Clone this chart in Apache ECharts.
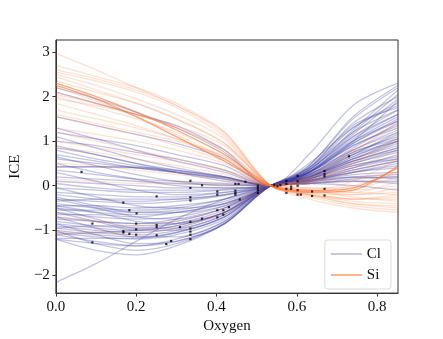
<!DOCTYPE html>
<html>
<head>
<meta charset="utf-8">
<script src="https://cdn.jsdelivr.net/npm/echarts@6/dist/echarts.min.js"></script>
<style>
  html, body { margin: 0; padding: 0; background: #fff; }
  #chart { width: 443px; height: 339px; }
</style>
</head>
<body>
<div id="chart"></div>
<script>
// oxygen grid the ICE curves are sampled on
var oxygen = [0, 0.1, 0.2, 0.3, 0.42, 0.535, 0.63, 0.74, 0.852];
var xTicks = [0, 0.2, 0.4, 0.6, 0.8];
var yTicks = [-2, -1, 0, 1, 2, 3];

// Cl curves
var clCurves = [
  [2.2, 1.95, 1.65, 1.3, 0.75, 0, 0.5, 1.3, 1.8],
  [2.1, 1.85, 1.6, 1.35, 0.8, 0, 0.3, 0.8, 1.2],
  [1.55, 1.35, 1.15, 0.95, 0.6, 0, 0.7, 1.8, 2.3],
  [1.2, 1.05, 0.9, 0.7, 0.45, 0, 0.4, 1.2, 1.7],
  [1.1, 0.85, 0.6, 0.4, 0.2, 0, 0.25, 0.7, 1.0],
  [1.0, 0.9, 0.75, 0.6, 0.35, 0, 0.45, 1.5, 2.2],
  [0.9, 0.7, 0.5, 0.35, 0.2, 0, 0.2, 0.6, 0.9],
  [0.8, 0.6, 0.45, 0.3, 0.15, 0, 0.35, 1.1, 1.6],
  [0.7, 0.55, 0.4, 0.3, 0.18, 0, 0.15, 0.45, 0.6],
  [0.6, 0.5, 0.4, 0.3, 0.15, 0, 0.3, 0.95, 1.45],
  [0.43, 0.43, 0.42, 0.35, 0.2, 0, 0.1, 0.3, 0.5],
  [0.42, 0.42, 0.4, 0.33, 0.18, 0, 0.12, 0.35, 0.55],
  [0.35, 0.25, 0.15, 0.1, 0.05, 0, 0.2, 0.65, 1.05],
  [0.2, 0.15, 0.1, 0.05, 0.02, 0, 0.1, 0.3, 0.4],
  [0.1, 0.05, 0.0, -0.05, -0.05, 0, 0.25, 0.85, 1.4],
  [0.05, -0.05, -0.1, -0.1, -0.08, 0, 0.15, 0.55, 0.85],
  [-0.05, -0.1, -0.15, -0.15, -0.1, 0, 0.3, 1.0, 1.9],
  [-0.15, -0.2, -0.25, -0.25, -0.15, 0, 0.12, 0.4, 0.7],
  [-0.2, -0.3, -0.35, -0.3, -0.2, 0, 0.35, 1.2, 2.05],
  [-0.3, -0.35, -0.4, -0.35, -0.22, 0, 0.2, 0.7, 1.2],
  [-0.4, -0.5, -0.55, -0.5, -0.3, 0, 0.05, 0.15, 0.2],
  [-0.45, -0.45, -0.5, -0.45, -0.3, 0, 0.28, 0.9, 1.3],
  [-0.5, -0.6, -0.65, -0.6, -0.4, 0, 0.4, 1.35, 1.75],
  [-0.55, -0.55, -0.6, -0.55, -0.35, 0, 0.18, 0.55, 0.8],
  [-0.6, -0.7, -0.75, -0.7, -0.45, 0, 0.3, 1.05, 1.6],
  [-0.65, -0.65, -0.7, -0.6, -0.4, 0, 0.1, 0.25, 0.3],
  [-0.7, -0.8, -0.85, -0.8, -0.5, 0, 0.22, 0.75, 1.1],
  [-0.75, -0.8, -0.85, -0.75, -0.5, 0, 0.35, 1.25, 2.15],
  [-0.8, -0.9, -0.95, -0.85, -0.55, 0, 0.15, 0.5, 0.75],
  [-0.85, -0.95, -1.0, -0.9, -0.6, 0, 0.05, 0.1, 0.05],
  [-0.9, -1.0, -1.05, -0.95, -0.6, 0, 0.28, 0.95, 1.5],
  [-0.95, -1.05, -1.1, -1.0, -0.65, 0, 0.2, 0.6, 0.95],
  [-1.0, -1.1, -1.15, -1.05, -0.7, 0, 0.4, 1.4, 2.0],
  [-1.05, -1.15, -1.2, -1.1, -0.75, 0, 0.12, 0.35, 0.55],
  [-1.1, -1.25, -1.35, -1.2, -0.8, 0, 0.25, 0.8, 1.25],
  [-1.18, -1.18, -1.18, -1.05, -0.7, 0, 0.08, 0.2, 0.25],
  [-1.2, -1.45, -1.55, -1.35, -0.85, 0, 0.3, 1.1, 1.7],
  [-1.0, -1.3, -1.45, -1.3, -0.85, 0, 0.18, 0.6, 1.0],
  [-0.85, -1.1, -1.3, -1.25, -0.85, 0, 0.22, 0.7, 1.15],
  [-2.17, -1.75, -1.25, -0.75, -0.3, 0, 0.15, 0.45, 0.65],
  [-0.3, -0.5, -0.7, -0.75, -0.5, 0, 0.3, 0.9, 1.35],
  [0.3, 0.1, -0.1, -0.2, -0.15, 0, 0.18, 0.5, 0.8],
  [-0.6, -0.8, -1.0, -1.0, -0.7, 0, 0.05, 0.0, -0.1],
  [-0.45, -0.6, -0.8, -0.85, -0.6, 0, 0.12, 0.3, 0.45],
  [0.5, 0.3, 0.15, 0.0, -0.05, 0, 0.3, 1.0, 1.55],
  [-0.25, -0.45, -0.6, -0.6, -0.45, 0, 0.25, 0.75, 1.05],
  [-0.95, -0.9, -0.9, -0.85, -0.6, 0, 0.45, 1.55, 2.25],
  [-0.7, -0.95, -1.15, -1.15, -0.8, 0, 0.1, 0.2, 0.15],
  [-1.1, -1.05, -1.0, -0.9, -0.6, 0, 0.15, 0.4, 0.6],
  [0.85, 0.7, 0.5, 0.3, 0.1, 0, 0.2, 0.55, 0.85],
  [-0.5, -0.75, -0.95, -0.95, -0.65, 0, 0.32, 1.0, 1.45],
  [-0.05, -0.25, -0.45, -0.5, -0.4, 0, 0.38, 1.3, 1.85],
  [-0.35, -0.3, -0.3, -0.3, -0.2, 0, 0.05, 0.1, 0.1],
  [1.3, 1.05, 0.8, 0.55, 0.3, 0, 0.35, 1.15, 1.95],
  [-1.2, -1.3, -1.35, -1.25, -0.85, 0, 0.2, 0.65, 1.0],
  [0.65, 0.45, 0.25, 0.1, 0.0, 0, 0.08, 0.18, 0.2]
];

// Si curves
var siCurves = [
  [2.97, 2.6, 2.2, 1.8, 1.15, 0, -0.2, -0.35, -0.4],
  [2.7, 2.45, 2.2, 1.85, 1.2, 0, -0.15, -0.3, -0.3],
  [2.6, 2.4, 2.15, 1.8, 1.2, 0, -0.25, -0.45, -0.55],
  [2.5, 2.25, 1.95, 1.6, 1.05, 0, -0.1, -0.15, 0.1],
  [2.45, 2.15, 1.85, 1.5, 0.95, 0, -0.2, -0.4, -0.45],
  [2.3, 2.0, 1.65, 1.25, 0.7, 0, -0.15, -0.1, 0.45],
  [2.25, 1.95, 1.55, 1.1, 0.55, 0, -0.12, -0.05, 0.4],
  [2.2, 1.9, 1.55, 1.15, 0.6, 0, -0.1, 0.1, 0.6],
  [2.1, 1.85, 1.6, 1.3, 0.8, 0, -0.18, -0.3, -0.25],
  [2.0, 1.75, 1.5, 1.2, 0.7, 0, -0.1, -0.2, -0.15],
  [1.95, 1.8, 1.6, 1.35, 0.9, 0, -0.22, -0.4, -0.5],
  [1.85, 1.6, 1.35, 1.05, 0.6, 0, 0.1, 0.5, 1.0],
  [1.7, 1.5, 1.3, 1.05, 0.65, 0, -0.15, -0.2, -0.05],
  [1.55, 1.35, 1.15, 0.9, 0.55, 0, 0.2, 0.75, 1.45],
  [1.3, 1.15, 1.0, 0.8, 0.5, 0, -0.1, -0.25, -0.35],
  [1.2, 1.0, 0.8, 0.6, 0.35, 0, 0.15, 0.55, 1.1],
  [1.0, 0.85, 0.7, 0.55, 0.35, 0, -0.08, -0.15, -0.2],
  [0.85, 0.75, 0.6, 0.45, 0.25, 0, 0.12, 0.4, 0.8],
  [0.5, 0.45, 0.35, 0.25, 0.15, 0, -0.05, -0.1, 0.0],
  [0.15, 0.1, 0.05, 0.05, 0.03, 0, 0.05, 0.15, 0.3],
  [-0.7, -0.8, -0.9, -0.8, -0.5, 0, -0.05, -0.05, 0.2],
  [-1.05, -1.05, -1.05, -0.95, -0.6, 0, 0.1, 0.3, 0.6],
  [2.35, 2.1, 1.85, 1.5, 0.95, 0, -0.3, -0.5, -0.6],
  [2.05, 1.85, 1.6, 1.3, 0.8, 0, -0.12, 0.0, 0.3],
  [1.6, 1.4, 1.2, 1.0, 0.65, 0, 0.2, 0.8, 1.3],
  [2.55, 2.35, 2.1, 1.75, 1.1, 0, -0.2, -0.3, -0.2]
];
// the Si curves that stand out darker
var siStrong = [5, 6];

// observed samples (oxygen, ICE)
var obsX = [0.064, 0.168, 0.183, 0.201, 0.091, 0.2, 0.168, 0.168, 0.183, 0.2, 0.2, 0.091,
  0.251, 0.251, 0.251, 0.251, 0.335, 0.335, 0.335, 0.335, 0.364, 0.335, 0.335, 0.335, 0.335, 0.335,
  0.309, 0.287, 0.275, 0.364, 0.402, 0.402, 0.402, 0.402, 0.417, 0.417, 0.431, 0.447, 0.455,
  0.447, 0.447, 0.447, 0.458, 0.472, 0.503, 0.503, 0.503, 0.503, 0.544, 0.552, 0.559,
  0.574, 0.574, 0.574, 0.574, 0.586, 0.586, 0.602, 0.602, 0.602, 0.602, 0.602, 0.61,
  0.638, 0.638, 0.669, 0.669, 0.669, 0.669, 0.669, 0.73];
var obsY = [0.31, -0.38, -0.55, -0.62, -0.85, -0.85, -1.02, -1.05, -1.08, -0.98, -1.1, -1.27,
  -0.24, -0.88, -0.93, -1.11, 0.11, -0.05, -0.26, -0.33, 0.01, -0.81, -0.96, -1.03, -1.1, -1.2,
  -0.93, -1.24, -1.31, -0.74, -0.13, -0.2, -0.55, -0.71, -0.55, -0.65, -0.48, 0.04, 0.04,
  -0.11, -0.16, -0.2, -0.31, 0.09, 0.0, -0.05, -0.1, -0.16, 0.01, -0.01, 0.01,
  0.11, 0.04, -0.07, -0.16, -0.02, -0.07, 0.22, 0.1, 0.0, -0.1, -0.2, -0.2,
  -0.13, -0.23, 0.33, 0.26, 0.21, -0.07, -0.22, 0.66];

var fontName = 'Liberation Serif';

function toPairs(ys) {
  var d = [];
  for (let i = 0; i < oxygen.length; i++) {
    d.push([oxygen[i], ys[i]]);
  }
  return d;
}

var series = [];
for (let i = 0; i < clCurves.length; i++) {
  series.push({
    name: 'Cl',
    type: 'line',
    smooth: 0.3,
    symbol: 'none',
    silent: true,
    color: '#3a3aa0',
    lineStyle: { width: 1.3, color: '#3a3aa0', opacity: 0.3 },
    data: toPairs(clCurves[i])
  });
}
for (let i = 0; i < siCurves.length; i++) {
  let strong = siStrong.indexOf(i) >= 0;
  series.push({
    name: 'Si',
    type: 'line',
    smooth: 0.3,
    symbol: 'none',
    silent: true,
    color: '#ff7a3c',
    lineStyle: { width: 1.3, color: '#ff7a3c', opacity: strong ? 0.65 : 0.22 },
    data: toPairs(siCurves[i])
  });
}
var obs = [];
for (let i = 0; i < obsX.length; i++) {
  obs.push([obsX[i], obsY[i]]);
}
series.push({
  name: 'obs',
  type: 'scatter',
  symbol: 'rect',
  symbolSize: 2.2,
  silent: true,
  z: 5,
  itemStyle: { color: '#000' },
  data: obs
});

var chart = echarts.init(document.getElementById('chart'));
var option = {
  animation: false,
  backgroundColor: '#fff',
  grid: {
    left: 55, right: 45, top: 40, bottom: 43,
    show: true, borderColor: '#333', borderWidth: 1
  },
  legend: {
    data: [
      { name: 'Cl', icon: 'rect', itemStyle: { color: '#b3b3dc', opacity: 1 } },
      { name: 'Si', icon: 'rect', itemStyle: { color: '#ff9a68', opacity: 1 } }
    ],
    orient: 'vertical',
    right: 52,
    bottom: 50,
    itemWidth: 31,
    itemHeight: 1.5,
    itemGap: 5,
    padding: [6, 10, 6, 6],
    backgroundColor: 'rgba(255,255,255,0.8)',
    borderColor: '#ddd',
    borderWidth: 1,
    borderRadius: 3,
    textStyle: { fontFamily: fontName, fontSize: 15, color: '#111', lineHeight: 16 }
  },
  xAxis: {
    type: 'value',
    min: 0,
    max: 0.852,
    name: 'Oxygen',
    nameLocation: 'middle',
    nameGap: 24,
    nameTextStyle: { fontFamily: fontName, fontSize: 15, color: '#111' },
    axisLine: { onZero: false, lineStyle: { color: '#333' } },
    axisTick: { show: true, length: 3.5, lineStyle: { color: '#333' }, customValues: xTicks },
    axisLabel: {
      fontFamily: fontName, fontSize: 15, color: '#111', margin: 6,
      customValues: xTicks,
      formatter: function (v) { return v.toFixed(1); }
    },
    splitLine: { show: false }
  },
  yAxis: {
    type: 'value',
    min: -2.41,
    max: 3.27,
    name: 'ICE',
    nameLocation: 'middle',
    nameGap: 30,
    nameTextStyle: { fontFamily: fontName, fontSize: 15, color: '#111' },
    axisLine: { show: true, onZero: false, lineStyle: { color: '#333' } },
    axisTick: { show: true, length: 3.5, lineStyle: { color: '#333' }, customValues: yTicks },
    axisLabel: {
      fontFamily: fontName, fontSize: 15, color: '#111', margin: 6,
      customValues: yTicks,
      formatter: function (v) { return (v < 0 ? '\u2212' : '') + Math.abs(v); }
    },
    splitLine: { show: false }
  },
  series: series
};
chart.setOption(option);
</script>
</body>
</html>
